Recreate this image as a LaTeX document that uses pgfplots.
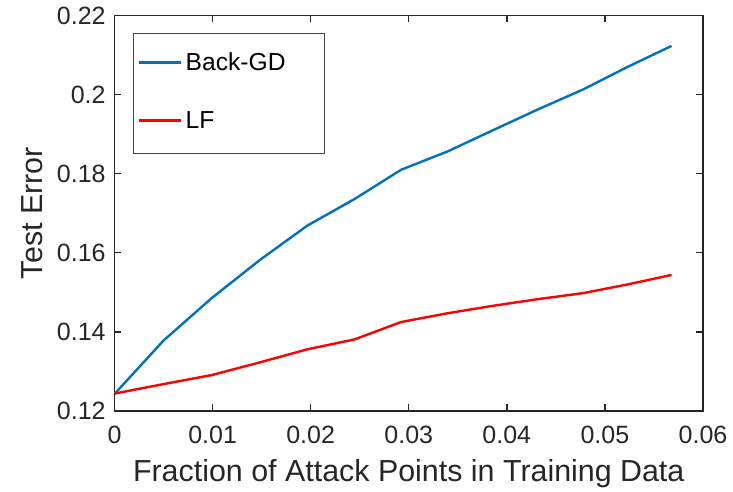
\documentclass[border=0pt]{standalone}
\usepackage{pgfplots}
\pgfplotsset{compat=1.18}
\usepackage{pgfplotstable}
\usepackage{fontspec}
\setmainfont{Liberation Sans}

\definecolor{axgray}{HTML}{262626}
\definecolor{mblue}{HTML}{0072BD}
\definecolor{mred}{HTML}{FF0000}

% test error vs. fraction of poisoned points
\pgfplotstableread{
x        backgd  lf
0        0.1243  0.1244
0.004993 0.1378  0.1268
0.009936 0.1486  0.1291
0.014831 0.1582  0.1323
0.019676 0.1669  0.1356
0.024476 0.1736  0.1381
0.029227 0.1810  0.1425
0.033934 0.1856  0.1447
0.038595 0.1910  0.1466
0.043211 0.1963  0.1483
0.047782 0.2013  0.1498
0.052310 0.2070  0.1520
0.056794 0.2123  0.1544
}\errtable

\begin{document}
\begin{tikzpicture}
\begin{axis}[
  scale only axis,
  width=294.25pt, height=197.75pt,
  xmin=0, xmax=0.06, ymin=0.12, ymax=0.22,
  axis line style={axgray, line width=0.7pt},
  xtick={0,0.01,0.02,0.03,0.04,0.05,0.06},
  xticklabels={0,0.01,0.02,0.03,0.04,0.05,0.06},
  ytick={0.12,0.14,0.16,0.18,0.2,0.22},
  yticklabels={0.12,0.14,0.16,0.18,0.2,0.22},
  scaled ticks=false,
  tick align=inside,
  major tick length=3.5pt,
  every tick/.style={axgray, line width=0.7pt},
  tick label style={font=\fontsize{12.5}{15}\selectfont, text=axgray},
  xticklabel style={anchor=north, inner sep=0pt, text height=9pt, text depth=0pt, yshift=-7pt},
  yticklabel style={anchor=east, inner sep=0pt, xshift=-4.25pt},
  xlabel={Fraction of Attack Points in Training Data},
  ylabel={Test Error},
  label style={font=\fontsize{15.2}{18}\selectfont, text=axgray, inner sep=0pt},
  xlabel style={at={(axis description cs:0.5,-0.1795)}, anchor=base},
  ylabel style={at={(axis description cs:-0.1223,0.5)}, anchor=base},
  legend style={
    at={(0.031,0.9565)}, anchor=north west,
    draw=axgray!85, line width=0.6pt,
    inner xsep=2pt, inner ysep=9.5pt,
    row sep=17pt,
    font=\fontsize{12.3}{15}\selectfont,
    nodes={inner xsep=2pt, inner ysep=0pt, text height=9pt, text depth=3pt},
  },
  legend cell align=left,
  legend image code/.code={\draw[#1, line width=1.2pt] (0pt,1pt) -- (21pt,1pt);},
]
\addplot[mblue, line width=1.2pt] table[x=x, y=backgd] {\errtable};
\addlegendentry{\makebox[65.5pt][l]{Back-GD}}
\addplot[mred, line width=1.2pt] table[x=x, y=lf] {\errtable};
\addlegendentry{\makebox[65.5pt][l]{LF}}
\end{axis}
\path (current axis.south west) ++(-57.25pt,-40.5pt) rectangle ++(366.5pt,246pt);
\end{tikzpicture}
\end{document}
